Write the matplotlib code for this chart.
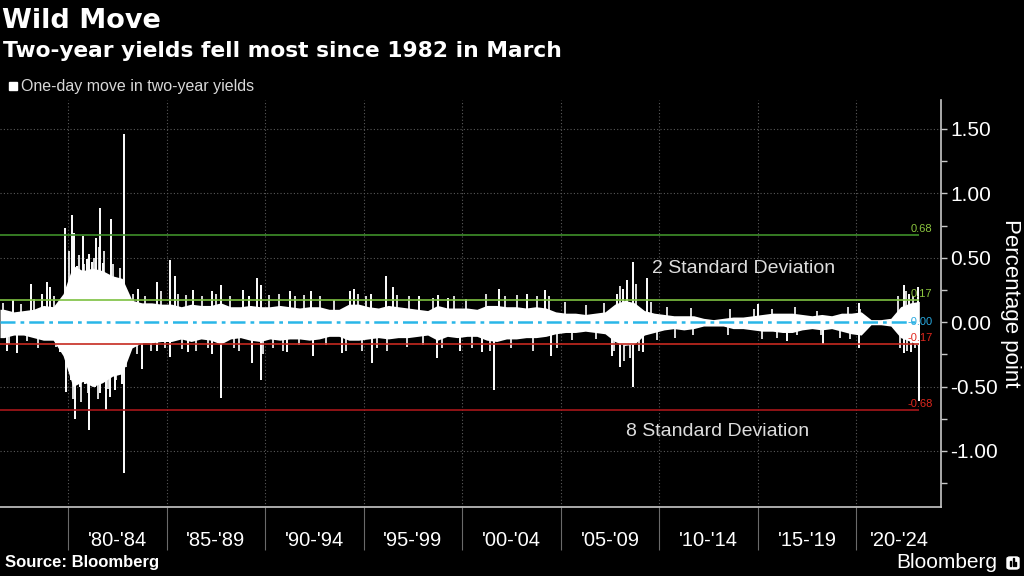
import numpy as np
import matplotlib.pyplot as plt
from matplotlib.ticker import MultipleLocator, FixedLocator, FuncFormatter, NullFormatter
from matplotlib.patches import FancyBboxPatch, Rectangle
import matplotlib.transforms as mtransforms

SANS = ["Liberation Sans", "DejaVu Sans"]
WIDE = ["DejaVu Sans"]

# dense band of daily moves, per half year from mid-1976 (upper / lower edge, pct points)
band_start = np.arange(1976.5, 2023.01, 0.5)
band_hi = [0.10, 0.08, 0.09, 0.10, 0.13, 0.12, 0.22, 0.44, 0.40, 0.42,
           0.40, 0.36, 0.34, 0.17, 0.15, 0.15, 0.14, 0.14, 0.12, 0.14,
           0.13, 0.13, 0.15, 0.12, 0.12, 0.13, 0.12, 0.12, 0.13, 0.12,
           0.11, 0.12, 0.12, 0.10, 0.10, 0.14, 0.14, 0.12, 0.11, 0.13,
           0.12, 0.11, 0.10, 0.09, 0.13, 0.11, 0.11, 0.11, 0.10, 0.13,
           0.13, 0.12, 0.12, 0.11, 0.12, 0.11, 0.08, 0.07, 0.07, 0.06,
           0.07, 0.08, 0.14, 0.17, 0.15, 0.09, 0.07, 0.06, 0.05, 0.05,
           0.05, 0.03, 0.02, 0.03, 0.04, 0.04, 0.05, 0.06, 0.07, 0.07,
           0.07, 0.06, 0.05, 0.06, 0.05, 0.07, 0.07, 0.08, 0.02, 0.02,
           0.03, 0.12, 0.15, 0.16]
band_lo = [-0.12, -0.10, -0.10, -0.12, -0.14, -0.14, -0.26, -0.50, -0.46, -0.50,
           -0.47, -0.42, -0.40, -0.20, -0.16, -0.16, -0.15, -0.15, -0.13, -0.15,
           -0.13, -0.14, -0.17, -0.13, -0.12, -0.14, -0.15, -0.13, -0.14, -0.13,
           -0.13, -0.14, -0.13, -0.11, -0.11, -0.14, -0.14, -0.13, -0.12, -0.13,
           -0.12, -0.12, -0.11, -0.10, -0.14, -0.11, -0.12, -0.11, -0.11, -0.14,
           -0.15, -0.13, -0.13, -0.12, -0.12, -0.11, -0.09, -0.08, -0.08, -0.07,
           -0.08, -0.09, -0.15, -0.18, -0.17, -0.10, -0.08, -0.06, -0.05, -0.06,
           -0.05, -0.03, -0.03, -0.03, -0.05, -0.05, -0.06, -0.07, -0.07, -0.08,
           -0.08, -0.06, -0.05, -0.06, -0.05, -0.07, -0.09, -0.10, -0.02, -0.02,
           -0.03, -0.12, -0.15, -0.18]
data_first, data_last = 1976.55, 2023.2

# big single-day moves that stick out of the band
spike_year = [1977.2, 1978.12, 1978.7, 1978.92, 1979.09,
              1979.85, 1980.19, 1980.3, 1980.45, 1980.75, 1980.95, 1981.08, 1981.2,
              1981.42, 1981.63, 1981.76, 1982.0, 1982.17, 1982.56, 1982.84,
              1983.57, 1984.5, 1985.18, 1985.43, 1986.33, 1987.3, 1987.75,
              1988.87, 1989.2, 1989.58, 1989.78, 1991.27, 1992.32, 1994.3, 1994.5,
              1995.4, 1996.13, 1996.48, 1997.8, 1998.8, 1999.3,
              2001.85, 2003.3, 2004.21, 2007.85, 2008.14, 2008.36, 2008.65,
              2009.37, 2015.0, 2020.12, 2022.4, 2022.7, 2023.13,
              1976.9, 1977.4, 1979.6, 1979.9, 1980.14, 1980.36, 1980.6, 1980.87,
              1981.08, 1981.37, 1981.63, 1981.93, 1982.13, 1982.39, 1982.73,
              1982.84, 1983.0, 1983.77, 1984.5, 1985.18, 1986.1, 1987.3, 1987.77,
              1989.33, 1989.78, 1991.1, 1992.45, 1993.9, 1995.42, 1998.72,
              1999.9, 2001.0, 2001.64, 2004.5, 2007.6, 2007.99, 2008.67, 2009.17,
              2016.5, 2018.3, 2020.12, 2022.4, 2022.8, 2023.17]
spike_move = [0.17, 0.30, 0.22, 0.31, 0.27,
              0.73, 0.83, 0.69, 0.44, 0.67, 0.49, 0.53, 0.47,
              0.65, 0.89, 0.46, 0.35, 0.80, 0.33, 1.46,
              0.26, 0.31, 0.48, 0.36, 0.25, 0.24, 0.29,
              0.25, 0.20, 0.34, 0.29, 0.24, 0.24, 0.24, 0.26,
              0.22, 0.36, 0.27, 0.20, 0.21, 0.19,
              0.26, 0.22, 0.25, 0.22, 0.26, 0.33, 0.47,
              0.34, 0.14, 0.15, 0.29, 0.22, 0.27,
              -0.22, -0.24, -0.23, -0.54, -0.45, -0.75, -0.50, -0.48,
              -0.84, -0.50, -0.55, -0.68, -0.58, -0.53, -0.48,
              -1.17, -0.24, -0.36, -0.22, -0.27, -0.23, -0.25, -0.59,
              -0.32, -0.45, -0.23, -0.26, -0.24, -0.32, -0.28,
              -0.22, -0.23, -0.53, -0.26, -0.26, -0.35, -0.50, -0.23,
              -0.15, -0.17, -0.20, -0.24, -0.23, -0.61]

# smaller moves just poking out of the band
minor_year = [1976.7, 1977.0, 1977.6, 1977.9, 1978.3, 1978.5, 1979.3, 1979.4,
              1980.05, 1980.25, 1980.55, 1980.65, 1980.8, 1981.0, 1981.3, 1981.5,
              1981.55, 1981.85, 1982.05, 1982.3, 1982.45, 1982.65, 1982.95,
              1983.3, 1983.5, 1983.9, 1984.2, 1984.7, 1984.9, 1985.6, 1985.8,
              1986.0, 1986.5, 1986.8, 1987.1, 1987.5, 1988.2, 1988.4, 1988.7,
              1989.9, 1990.2, 1990.4, 1990.7, 1990.9, 1991.5, 1991.7, 1992.0,
              1992.8, 1993.1, 1993.5, 1994.1, 1994.7, 1994.9, 1995.1, 1995.7,
              1996.2, 1996.7, 1997.2, 1997.3, 1998.0, 1998.5, 1999.0, 1999.6,
              2000.2, 2000.5, 2001.2, 2001.4, 2002.2, 2002.5, 2002.8, 2003.6,
              2003.8, 2004.4, 2004.8, 2005.2, 2005.6, 2006.3, 2006.8, 2007.2,
              2007.7, 2008.0, 2008.2, 2008.5, 2008.8, 2009.0, 2009.6, 2009.9,
              2010.4, 2010.8, 2011.6, 2011.7, 2013.5, 2013.6, 2014.8, 2015.2,
              2015.7, 2016.0, 2016.9, 2017.0, 2018.0, 2018.2, 2019.2, 2019.6,
              2019.7, 2020.2, 2022.1, 2022.2, 2022.5, 2022.6, 2022.9, 2023.0]
minor_move = [0.15, -0.17, 0.14, -0.15, 0.18, -0.20, 0.20, -0.19,
              0.55, -0.60, 0.52, -0.62, 0.45, -0.55, 0.50, -0.60,
              0.58, 0.55, -0.52, 0.45, -0.45, 0.42, -0.35,
              0.22, -0.25, 0.20, -0.22, 0.24, -0.20, 0.22, -0.21,
              0.21, -0.22, 0.20, -0.20, 0.22, 0.20, -0.20, -0.22,
              -0.25, 0.21, -0.20, 0.22, -0.22, 0.20, -0.18, 0.21,
              0.20, -0.18, 0.17, -0.22, 0.22, -0.22, 0.20, -0.20,
              -0.22, 0.21, -0.19, 0.20, -0.18, 0.19, -0.20, 0.20,
              0.18, -0.20, 0.22, -0.22, 0.20, -0.20, 0.21, -0.22,
              0.20, 0.20, -0.20, 0.16, -0.14, 0.13, -0.13, 0.15,
              -0.22, 0.28, -0.30, -0.28, 0.30, -0.22, 0.16, -0.14,
              0.12, -0.12, 0.11, -0.10, -0.10, 0.10, 0.10, -0.13,
              0.10, -0.12, 0.12, -0.10, 0.09, -0.10, -0.12, 0.12,
              -0.13, 0.10, 0.20, -0.20, 0.24, -0.22, 0.20, -0.20]

# standard deviation guide lines
sd_levels = [0.68, 0.17, 0.00, -0.17, -0.68]
sd_labels = ["0.68", "0.17", "-0.00", "-0.17", "-0.68"]
sd_line_colors = ["#3f8f2a", "#7dc142", "#29b6e8", "#c62a20", "#a8161a"]
sd_text_colors = ["#8cc63f", "#8cc63f", "#29a8de", "#e0281e", "#e0281e"]

period_edges = list(range(1980, 2021, 5))
period_mids = [1982.5, 1987.5, 1992.5, 1997.5, 2002.5, 2007.5, 2012.5, 2017.5, 2022.2]
period_labels = ["'80-'84", "'85-'89", "'90-'94", "'95-'99", "'00-'04",
                 "'05-'09", "'10-'14", "'15-'19", "'20-'24"]

fig = plt.figure(figsize=(10.24, 5.76), dpi=100, facecolor="black")
ax = fig.add_axes([0.0, 69 / 576, 941 / 1024, 407 / 576], facecolor="black")

# grid
grid_kw = dict(color="#5a5a5a", lw=0.8, linestyle=(0, (1, 2)), zorder=0)
for x in period_edges:
    ax.axvline(x, **grid_kw)
for y in [-1.0, -0.5, 0.5, 1.0, 1.5]:
    ax.axhline(y, **grid_kw)

# moves
bx = np.r_[data_first, np.minimum(band_start + 0.25, data_last - 0.05), data_last]
hi = np.r_[band_hi[0], band_hi, band_hi[-1]]
lo = np.r_[band_lo[0], band_lo, band_lo[-1]]
ax.fill_between(bx, lo, hi, color="white", lw=0, zorder=2)
ax.vlines(minor_year, 0, minor_move, color="white", lw=1.2, zorder=2)
ax.vlines(spike_year, 0, spike_move, color="white", lw=1.4, zorder=2)

# guide lines + labels
lab_tr = mtransforms.blended_transform_factory(ax.transAxes, ax.transData)
for lev, txt, lc, tc in zip(sd_levels, sd_labels, sd_line_colors, sd_text_colors):
    if lev == 0:
        ax.hlines(lev, data_first, data_last, color=lc, lw=1.8,
                  linestyle=(0, (6, 2, 1.5, 2)), zorder=3)
        ax.text(0.991, lev, txt, transform=lab_tr, ha="right", va="center",
                color=tc, fontsize=8, family=SANS, zorder=4)
    else:
        ax.hlines(lev, data_first, data_last, color=lc, lw=1.2, zorder=3)
        ax.text(0.991, lev + 0.008, txt, transform=lab_tr, ha="right", va="bottom",
                color=tc, fontsize=8, family=SANS, zorder=4)

ax.text(2009.65, 0.42, "2 Standard Deviation", color="#dddddd", fontsize=14,
        family=SANS, va="center", ha="left")
ax.text(2008.3, -0.85, "8 Standard Deviation", color="#dddddd", fontsize=14,
        family=SANS, va="center", ha="left")

ax.set_xlim(data_first, 2024.3)
ax.set_ylim(-1.435, 1.725)

for s in ["left", "top"]:
    ax.spines[s].set_visible(False)
for s in ["right", "bottom"]:
    ax.spines[s].set_color("#c8c8c8")
    ax.spines[s].set_linewidth(1.2)

ax.yaxis.tick_right()
ax.yaxis.set_major_locator(MultipleLocator(0.5))
ax.yaxis.set_minor_locator(MultipleLocator(0.25))
ax.yaxis.set_major_formatter(FuncFormatter(lambda v, _: f"{v:.2f}"))
ax.tick_params(axis="y", which="both", direction="out", length=4.5, width=1,
               color="#c8c8c8", labelcolor="white", labelsize=15, pad=2)
for t in ax.get_yticklabels():
    t.set_family(SANS)

ax.xaxis.set_major_locator(FixedLocator(period_edges))
ax.xaxis.set_major_formatter(NullFormatter())
ax.xaxis.set_minor_locator(FixedLocator(period_mids))
ax.xaxis.set_minor_formatter(FuncFormatter(
    lambda v, i: period_labels[i] if i is not None and i < len(period_labels) else ""))
ax.tick_params(axis="x", which="major", length=31, width=0.8, color="#6a6a6a")
ax.tick_params(axis="x", which="minor", length=0, pad=17, labelcolor="white",
               labelsize=14.5)
for t in ax.get_xticklabels(minor=True):
    t.set_family(SANS)

fig.text(1010 / 1024, 1 - 303.5 / 576, "Percentage point", rotation=270,
         color="white", fontsize=16, family=SANS, va="center", ha="center")

# header
fig.text(0.002, 1 - 21 / 576, "Wild Move", color="white", fontsize=19.5,
         fontweight="bold", family=WIDE, va="center", ha="left")
fig.text(0.003, 1 - 51 / 576, "Two-year yields fell most since 1982 in March",
         color="white", fontsize=15.7, fontweight="bold", family=WIDE,
         va="center", ha="left")
fig.patches.append(Rectangle((9 / 1024, 1 - 90 / 576), 8 / 1024, 8 / 576,
                             transform=fig.transFigure, color="white"))
fig.text(21 / 1024, 1 - 86.5 / 576, "One-day move in two-year yields", color="#d8d8d8",
         fontsize=11.5, family=SANS, va="center", ha="left")

# footer
fig.text(5 / 1024, 1 - 563 / 576, "Source: Bloomberg", color="white", fontsize=12,
         fontweight="bold", family=SANS, va="center", ha="left")
fig.text(997 / 1024, 1 - 562 / 576, "Bloomberg", color="white", fontsize=15,
         family=SANS, va="center", ha="right")
fig.patches.append(FancyBboxPatch((1007 / 1024, 1 - 569 / 576), 12 / 1024, 12 / 576,
                                  boxstyle="round,pad=0,rounding_size=0.003",
                                  transform=fig.transFigure, color="white"))
for bx_, bh in zip([1010, 1012.5, 1015], [5, 8, 4]):
    fig.patches.append(Rectangle((bx_ / 1024, 1 - 566 / 576), 1.3 / 1024, bh / 576,
                                 transform=fig.transFigure, color="black"))

fig.savefig("out.png", dpi=100, facecolor="black")
